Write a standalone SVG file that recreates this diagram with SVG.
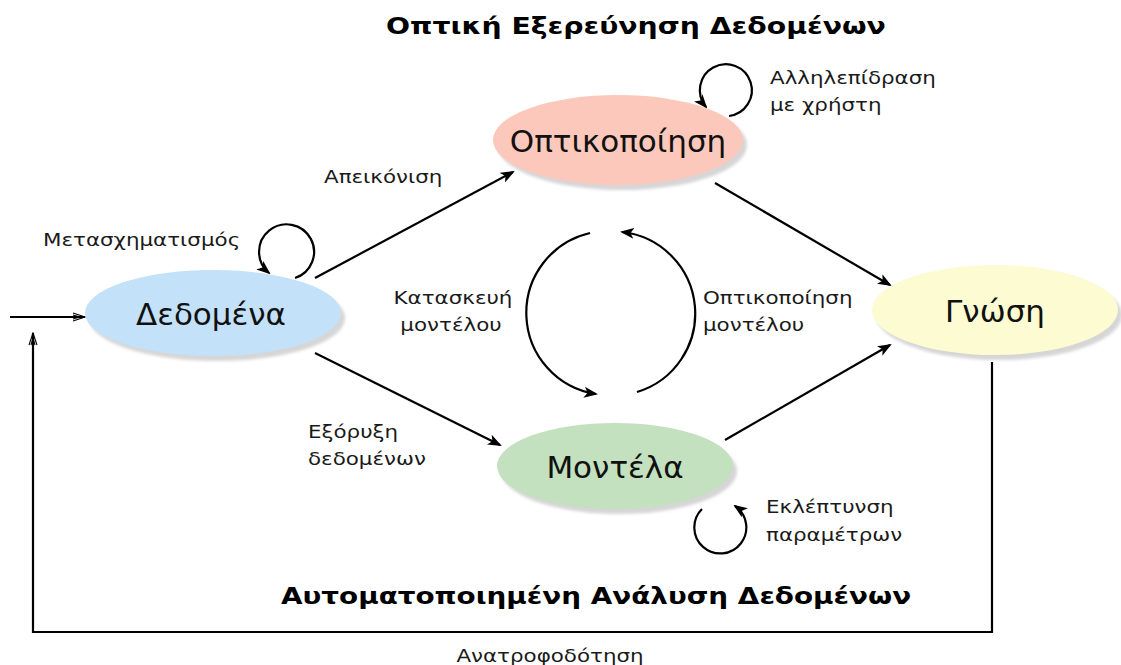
<svg xmlns="http://www.w3.org/2000/svg" width="1121" height="665" viewBox="0 0 1121 665">
<style>
.t{font-family:"DejaVu Sans",sans-serif;font-size:18px;fill:#1a1a1a}
.n{font-family:"DejaVu Sans",sans-serif;font-size:31px;fill:#111;text-anchor:middle}
.h{font-family:"DejaVu Sans",sans-serif;font-size:23px;font-weight:bold;fill:#000}
.e{stroke:#000;stroke-width:2.2;fill:none}
.sh{fill:#d6d6d6}
</style>
<defs>
<marker id="a" viewBox="0 0 14 11" refX="12" refY="5.5" markerWidth="14" markerHeight="11" markerUnits="userSpaceOnUse" orient="auto">
<path d="M0,0 L14,5.5 L0,11 L3.5,5.5 z" fill="#000"/>
</marker>
<marker id="o" viewBox="0 0 14 10" refX="13" refY="5" markerWidth="14" markerHeight="10" markerUnits="userSpaceOnUse" orient="auto">
<path d="M1,1 L13,5 L1,9 M1,3 L8,5 L1,7" fill="none" stroke="#000" stroke-width="1.1"/>
</marker>
<filter id="b" x="-10%" y="-20%" width="120%" height="140%"><feGaussianBlur stdDeviation="1.5"/></filter>
</defs>

<text class="h" transform="translate(386,34) scale(1.23,1)">Οπτική Εξερεύνηση Δεδομένων</text>
<text class="h" transform="translate(281,604) scale(1.21,1)">Αυτοματοποιημένη Ανάλυση Δεδομένων</text>

<g id="connectors">
<path class="e" d="M315,278 L513,172" marker-end="url(#a)"/>
<path class="e" d="M315,353 L500,445" marker-end="url(#a)"/>
<path class="e" d="M715,183 L890,285" marker-end="url(#a)"/>
<path class="e" d="M725,440 L890,345" marker-end="url(#a)"/>
<path class="e" d="M10,317 L85,317" stroke-width="1.8" marker-end="url(#o)"/>
<path class="e" d="M992,362 L992,632 L33,632 L33,333" stroke-width="1.8" marker-end="url(#o)"/>
<path class="e" d="M295,278 A27.5,27.5 0 1 0 269,273" marker-end="url(#a)"/>
<path class="e" d="M729,116 A26,26 0 1 0 706,107" marker-end="url(#a)"/>
<path class="e" d="M702,509 A26,26 0 1 0 735,506" marker-end="url(#a)"/>
<path class="e" d="M590,233 A82,82 0 0 0 596,394" marker-end="url(#a)"/>
<path class="e" d="M637,392 A82,82 0 0 0 622,232" marker-end="url(#a)"/>
</g>

<g id="n-data">
<ellipse class="sh" cx="217" cy="318" rx="128" ry="43" filter="url(#b)"/>
<ellipse cx="213" cy="313" rx="128" ry="43" fill="#c3e1f9"/>
<text class="n" x="211" y="325">Δεδομένα</text>
</g>
<g id="n-vis">
<ellipse class="sh" cx="622" cy="145" rx="125" ry="45" filter="url(#b)"/>
<ellipse cx="618" cy="140" rx="125" ry="45" fill="#fcc8bb"/>
<text class="n" x="618" y="152">Οπτικοποίηση</text>
</g>
<g id="n-know">
<ellipse class="sh" cx="999" cy="315" rx="123" ry="45" filter="url(#b)"/>
<ellipse cx="995" cy="310" rx="123" ry="45" fill="#fdfbd2"/>
<text class="n" x="995" y="322">Γνώση</text>
</g>
<g id="n-models">
<ellipse class="sh" cx="619" cy="471" rx="118" ry="43" filter="url(#b)"/>
<ellipse cx="615" cy="466" rx="118" ry="43" fill="#c3e1be"/>
<text class="n" x="615" y="478">Μοντέλα</text>
</g>

<g id="labels">
<text class="t" transform="translate(324,183) scale(1.19,1)">Απεικόνιση</text>
<text class="t" transform="translate(43,246) scale(1.19,1)">Μετασχηματισμός</text>
<text class="t" text-anchor="middle" transform="translate(453,304) scale(1.19,1)">Κατασκευή</text>
<text class="t" text-anchor="middle" transform="translate(451,331) scale(1.19,1)">μοντέλου</text>
<text class="t" transform="translate(703,304) scale(1.19,1)">Οπτικοποίηση</text>
<text class="t" transform="translate(703,331) scale(1.19,1)">μοντέλου</text>
<text class="t" transform="translate(308,438) scale(1.19,1)">Εξόρυξη</text>
<text class="t" transform="translate(308,465) scale(1.19,1)">δεδομένων</text>
<text class="t" transform="translate(770,84) scale(1.19,1)">Αλληλεπίδραση</text>
<text class="t" transform="translate(770,111) scale(1.19,1)">με χρήστη</text>
<text class="t" transform="translate(766,513) scale(1.19,1)">Εκλέπτυνση</text>
<text class="t" transform="translate(766,541) scale(1.19,1)">παραμέτρων</text>
<text class="t" text-anchor="middle" transform="translate(550,662) scale(1.19,1)">Ανατροφοδότηση</text>
</g>
</svg>
